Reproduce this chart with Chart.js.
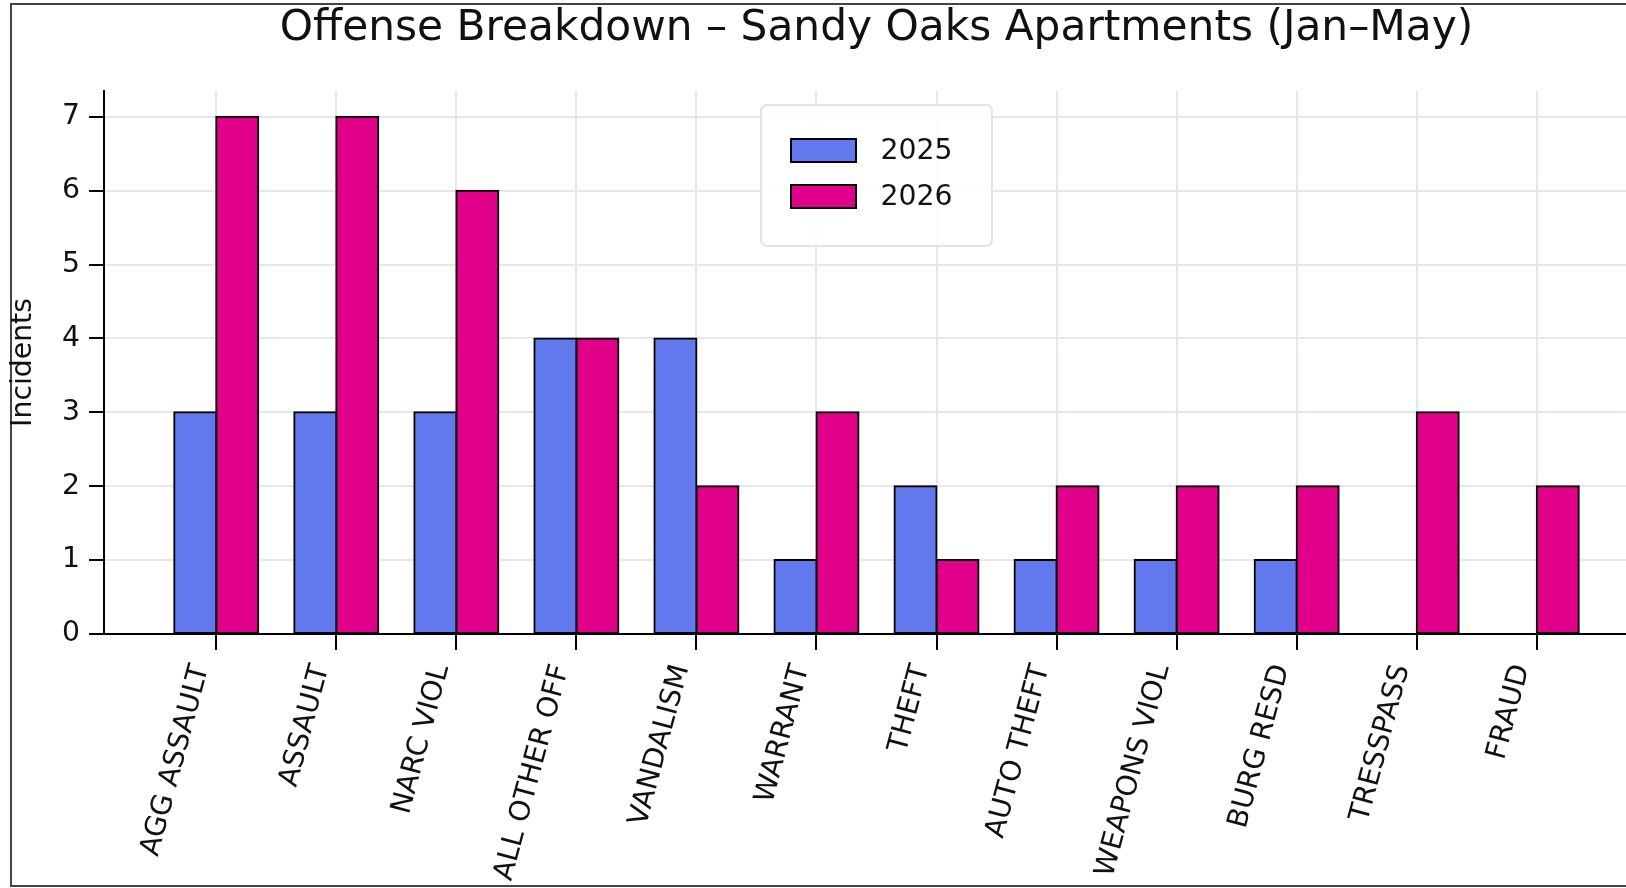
<!DOCTYPE html>
<html><head><meta charset="utf-8">
<script src="https://cdn.jsdelivr.net/npm/chart.js@4/dist/chart.umd.min.js"></script>
<style>html,body{margin:0;padding:0;background:#fff;overflow:hidden;width:1626px;height:888px}canvas{display:block}</style>
</head><body>
<canvas id="c" width="1700" height="888"></canvas>
<script>
const categories = ['AGG ASSAULT','ASSAULT','NARC VIOL','ALL OTHER OFF','VANDALISM','WARRANT','THEFT','AUTO THEFT','WEAPONS VIOL','BURG RESD','TRESSPASS','FRAUD'];
const values2025 = [3,3,3,4,4,1,2,1,1,1,0,0];
const values2026 = [7,7,6,4,2,3,1,2,2,2,3,2];
const seriesLabels = ['2025','2026'];
const yTicks = [0,1,2,3,4,5,6,7];
const chartTitle = 'Offense Breakdown \u2013 Sandy Oaks Apartments (Jan\u2013May)';
const yLabel = 'Incidents';

const COLORS = ['#6279EE', '#E0008A'];
const FONT = "'DejaVu Sans', sans-serif";
const FS = 28.3;
Chart.defaults.font.family = FONT;
Chart.defaults.color = '#111';

// axis limits with matplotlib-like 5% margins
const n = categories.length;
const span = (n - 1) + 0.7;
const xMin = -0.35 - 0.05 * span;
const xMax = (n - 1) + 0.35 + 0.05 * span;
const yMax = Math.max(...values2025, ...values2026) * 1.05;

const toPts = arr => arr.map((v, i) => ({x: i, y: v}));

const framePlugin = {
  id: 'frame',
  beforeDraw(chart) {
    const c = chart.ctx;
    c.save();
    c.fillStyle = '#fff';
    c.fillRect(0, 0, chart.width, chart.height);
    c.strokeStyle = '#444';
    c.lineWidth = 2;
    c.strokeRect(11, 4, chart.width, 882);
    c.restore();
  }
};

const legendPlugin = {
  id: 'boxLegend',
  afterDraw(chart) {
    const c = chart.ctx;
    const box = {x: 761, y: 105, w: 231, h: 141, r: 6};
    c.save();
    c.beginPath();
    c.roundRect(box.x, box.y, box.w, box.h, box.r);
    c.fillStyle = 'rgba(255,255,255,0.85)';
    c.fill();
    c.strokeStyle = '#e2e2e8';
    c.lineWidth = 2;
    c.stroke();
    const rows = [150.5, 196.5];
    chart.data.datasets.forEach((ds, i) => {
      const cy = rows[i];
      c.fillStyle = ds.backgroundColor;
      c.fillRect(791, cy - 11.5, 65, 23);
      c.strokeStyle = '#000';
      c.lineWidth = 2;
      c.strokeRect(791, cy - 11.5, 65, 23);
      c.fillStyle = '#111';
      c.font = FS + 'px ' + FONT;
      c.textBaseline = 'middle';
      c.textAlign = 'left';
      c.fillText(ds.label, 880.5, cy + 1);
    });
    c.restore();
  }
};

const gridCommon = {color: '#e6e6ec', lineWidth: 2, tickColor: '#000', tickWidth: 2, drawTicks: true, offset: false};

new Chart(document.getElementById('c'), {
  type: 'bar',
  data: {
    datasets: [
      {label: seriesLabels[0], data: toPts(values2025), backgroundColor: COLORS[0], borderColor: '#000', borderWidth: 2, borderSkipped: false, inflateAmount: 1},
      {label: seriesLabels[1], data: toPts(values2026), backgroundColor: COLORS[1], borderColor: '#000', borderWidth: 2, borderSkipped: false, inflateAmount: 1}
    ]
  },
  options: {
    responsive: false,
    animation: false,
    devicePixelRatio: 1,
    categoryPercentage: 0.7,
    barPercentage: 1.0,
    layout: {padding: {left: 0, right: 51, top: 0, bottom: 0}},
    plugins: {
      legend: {display: false},
      tooltip: {enabled: false},
      title: {display: true, text: chartTitle, fullSize: false, color: '#111',
        font: {size: 42.3, weight: 'normal', family: FONT}, padding: {top: 4, bottom: 36.2}}
    },
    scales: {
      x: {
        type: 'linear', min: xMin, max: xMax, offset: false,
        afterBuildTicks: s => { s.ticks = categories.map((_, i) => ({value: i})); },
        afterFit: s => { s.height = 254; },
        grid: Object.assign({}, gridCommon, {tickLength: 16}),
        border: {color: '#000', width: 2, z: 1},
        ticks: {autoSkip: false, minRotation: 75, maxRotation: 75, padding: 11, labelOffset: -15,
          font: {size: FS}, color: '#111', callback: v => categories[v]}
      },
      y: {
        min: 0, max: yMax,
        afterBuildTicks: s => { s.ticks = yTicks.map(v => ({value: v})); },
        afterFit: s => { s.width = 104; },
        grid: Object.assign({}, gridCommon, {tickLength: 15}),
        border: {color: '#000', width: 2, z: 1},
        ticks: {padding: 9, font: {size: FS}, color: '#111'},
        title: {display: true, text: yLabel, font: {size: FS}, color: '#111', padding: {top: 7, bottom: 0}}
      }
    }
  },
  plugins: [framePlugin, legendPlugin]
});
</script>
</body></html>
